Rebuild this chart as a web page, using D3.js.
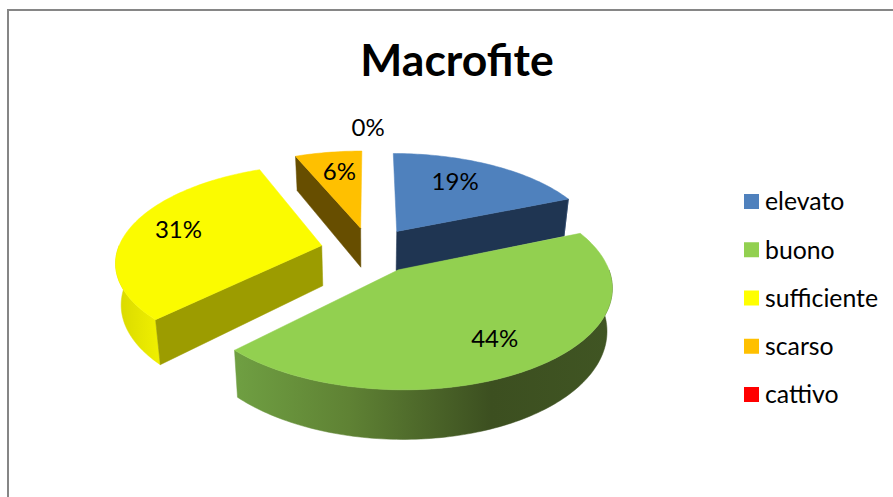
<!DOCTYPE html>
<html><head><meta charset="utf-8">
<script src="https://cdnjs.cloudflare.com/ajax/libs/d3/7.8.5/d3.min.js"></script>
<style>html,body{margin:0;padding:0;background:#fff;overflow:hidden}svg{display:block}text{font-family:Lato,"Open Sans",sans-serif;fill:#000}</style>
</head><body><svg id="c" width="893" height="497"></svg>
<script>
const titleText = "Macrofite";
const categories = ["elevato","buono","sufficiente","scarso","cattivo"];
const values = [18.75,43.75,31.25,6.25,0];
const topColors = ["#4f81bd","#92d050","#fbfb00","#ffc000","#ff0000"];
const legendColors = ["#4f81bd","#92d050","#ffff00","#ffc000","#ff0000"];
const wallColors = ["#1f3552","#3c5020","#9c9c00","#674e00","#800000"];
const labelRadius = [0.694,0.732,0.755,0.726,1.36];
const labelTurn = [-5,0.6,2.6,1.4,-0.5];

// layout of the perspective disc
const cx=370, cy=250, scaleX=204, scaleY=95, persp=0.1525, explode=0.243, depth=40.5, shrink=0.978;
const svg=d3.select("#c");
const defs=svg.append("defs");
const g1=defs.append("linearGradient").attr("id","gGreen").attr("gradientUnits","userSpaceOnUse")
  .attr("x1",236).attr("x2",612).attr("y1",0).attr("y2",0);
[[0,"#6f9f42"],[0.3,"#5f8234"],[0.68,"#3c4f20"],[1,"#405523"]].forEach(s=>g1.append("stop").attr("offset",s[0]).attr("stop-color",s[1]));
const g2=defs.append("linearGradient").attr("id","gYellow").attr("gradientUnits","userSpaceOnUse")
  .attr("x1",115).attr("x2",160).attr("y1",0).attr("y2",0);
[[0,"#d8d800"],[1,"#f0f000"]].forEach(s=>g2.append("stop").attr("offset",s[0]).attr("stop-color",s[1]));

// frame
svg.append("path").attr("d","M8,497V10H893").attr("fill","none").attr("stroke","#868686").attr("stroke-width",2);
svg.append("text").text(titleText).attr("x",457).attr("y",76).attr("text-anchor","middle").attr("font-size",44.5).attr("font-weight",700);

const pie=d3.pie().value(d=>d).sort(null)(values);
const total=d3.sum(values);

function proj(X,Y,bottom){
  const w=1-persp*Y;
  let sx=cx+scaleX*X/w, sy=cy+scaleY*Y/w;
  if(bottom){ sy+=depth/w; sx=cx+(sx-cx)*shrink; }
  return [sx,sy];
}
function slicePoint(s,ang,r,bottom){
  const mid=(s.startAngle+s.endAngle)/2;
  const X=Math.sin(mid)*explode+Math.sin(ang)*r;
  const Y=-Math.cos(mid)*explode-Math.cos(ang)*r;
  return proj(X,Y,bottom);
}
function arcPts(s,a0,a1,bottom){
  const n=Math.max(2,Math.ceil(Math.abs(a1-a0)/0.02));
  return d3.range(n+1).map(i=>slicePoint(s,a0+(a1-a0)*i/n,1,bottom));
}
const pathLine=d3.line();
function poly(pts,fill){
  svg.append("path").attr("d",pathLine(pts)+"Z").attr("fill",fill).attr("stroke",fill).attr("stroke-width",0.5).attr("stroke-linejoin","round");
}
function radialWall(s,ang,fill){
  poly([slicePoint(s,ang,0,false),slicePoint(s,ang,1,false),slicePoint(s,ang,1,true),slicePoint(s,ang,0,true)],fill);
}
function outerWall(s,a0,a1,fill){
  poly(arcPts(s,a0,a1,false).concat(arcPts(s,a0,a1,true).reverse()),fill);
}
function topFace(s,i){
  poly([slicePoint(s,s.startAngle,0,false)].concat(arcPts(s,s.startAngle,s.endAngle,false)),topColors[i]);
}
const rad=Math.PI/2;
// back to front: scarso, elevato, sufficiente, buono
const [pe,pb,ps,pa]=pie;
radialWall(pa,pa.startAngle,wallColors[3]); topFace(pa,3);
radialWall(pe,pe.endAngle,wallColors[0]);
outerWall(pe,rad*0.75,pe.endAngle,"#2a4568");
topFace(pe,0);
outerWall(ps,ps.startAngle,3*rad,"url(#gYellow)");
radialWall(ps,ps.startAngle,wallColors[2]);
topFace(ps,2);
outerWall(pb,rad,pb.endAngle,"url(#gGreen)");
topFace(pb,1);

// labels
pie.forEach((s,i)=>{
  const mid=(s.startAngle+s.endAngle)/2;
  const p=slicePoint(s,mid+labelTurn[i]*Math.PI/180,labelRadius[i],false);
  svg.append("text").attr("x",p[0]).attr("y",p[1]).attr("dy","0.36em").attr("text-anchor","middle")
    .attr("font-size",24).text(Math.round(s.value/total*100)+"%");
});

// legend
const legendY=d3.scalePoint().domain(categories).range([201.5,394.5]);
categories.forEach((c,i)=>{
  svg.append("rect").attr("x",744).attr("y",legendY(c)-7.5).attr("width",15).attr("height",15).attr("fill",legendColors[i]);
  svg.append("text").attr("x",765).attr("y",legendY(c)).attr("dy","0.36em").attr("font-size",24.8).text(c);
});
</script></body></html>
